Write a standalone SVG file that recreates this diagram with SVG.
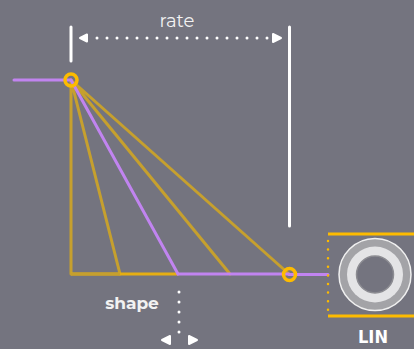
<svg xmlns="http://www.w3.org/2000/svg" width="414" height="349" viewBox="0 0 414 349">
<style>
.g{fill:none;stroke:#c6a02e;stroke-width:3;stroke-linecap:round}
.p{fill:none;stroke:#c184f0;stroke-width:3;stroke-linecap:round}
.w{fill:none;stroke:#fff;stroke-width:3;stroke-linecap:round}
.d{fill:none;stroke:#fff;stroke-width:3;stroke-linecap:round;stroke-dasharray:0 10}
.y{fill:none;stroke:#fdbb00;stroke-width:3}
.a{fill:#fff;stroke:#fff;stroke-width:2;stroke-linejoin:round}
.t{font-family:Montserrat,"Open Sans","Noto Sans",sans-serif;fill:#f2f2f2}
</style>
<rect width="414" height="349" fill="#74747f"/>
<g id="connectors">
<path class="g" d="M71 80V274M71 80L120 274M71 80L230 274M71 80L289 274"/>
<path d="M71 274H178" fill="none" stroke="#e5ae13" stroke-width="3"/>
<path d="M71 274H120" fill="none" stroke="#c6a02e" stroke-width="3"/>
<path d="M178 274H289" class="p"/>
<path class="p" d="M71 80L178 274"/>
<path class="p" d="M14 80H71"/>
<path class="p" d="M289 274.500H328"/>
<path class="w" d="M71 27V61"/>
<path class="w" d="M289.500 27V226"/>
<path class="d" d="M97 38H270"/>
<path class="d" d="M179 292V342"/>
<path class="a" d="M80 38L87 34.500V41.500Z"/>
<path class="a" d="M281 38L273 34V42Z"/>
<path class="a" d="M162 340L170 336V344Z"/>
<path class="a" d="M197 340L189 336V344Z"/>
<path d="M328 234H414M328 316H414" class="y"/>
<path d="M328 241V313" fill="none" stroke="#fdbb00" stroke-width="2.500" stroke-linecap="round" stroke-dasharray="0 8.600"/>
</g>
<g id="node-start"><circle cx="71" cy="80" r="6" fill="none" stroke="#fdbb00" stroke-width="3.500"/></g>
<g id="node-end"><circle cx="289.500" cy="274.500" r="6" fill="none" stroke="#fdbb00" stroke-width="3.500"/></g>
<g id="jack">
<circle cx="375" cy="274.500" r="36" fill="#a3a3a7" stroke="#f0f0f0" stroke-width="1.500"/>
<circle cx="375" cy="274.500" r="28" fill="#e4e4e6"/>
<circle cx="375" cy="274.500" r="18.500" fill="#74747f" stroke="#8c8c92" stroke-width="1.500"/>
</g>
<g id="labels">
<text class="t" x="177" y="27" font-size="18" text-anchor="middle">rate</text>
<text class="t" x="132" y="309" font-size="17" font-weight="700" text-anchor="middle">shape</text>
<text x="373" y="343" font-family="'DejaVu Sans',sans-serif" font-size="18" font-weight="700" fill="#fff" text-anchor="middle" textLength="30" lengthAdjust="spacingAndGlyphs">LIN</text>
</g>
</svg>
